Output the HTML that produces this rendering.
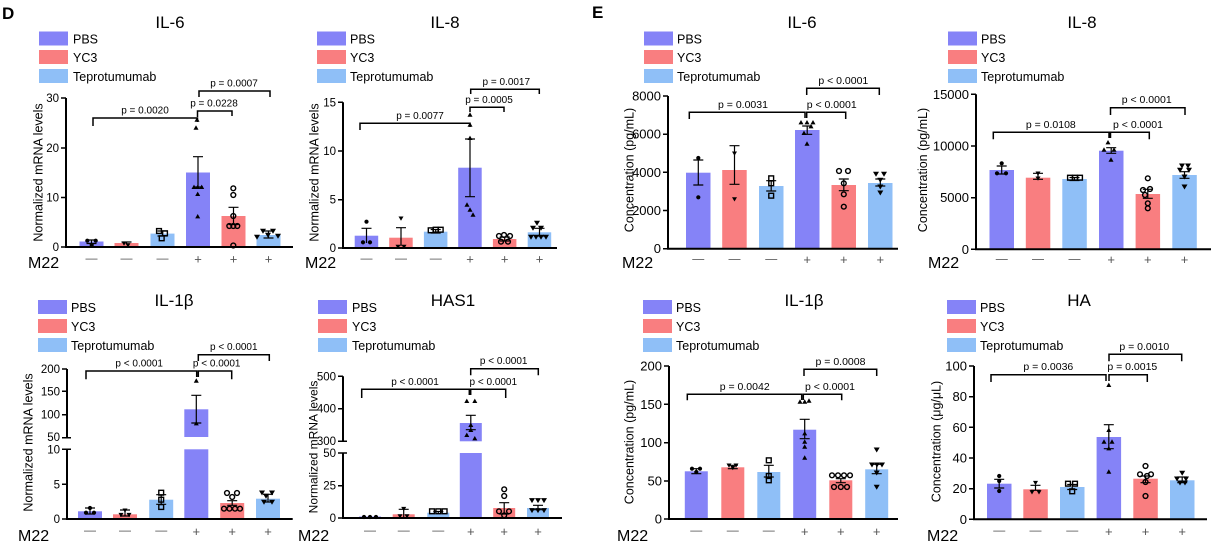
<!DOCTYPE html>
<html><head><meta charset="utf-8"><style>
html,body{margin:0;padding:0;background:#fff;}
svg{display:block}
text{font-family:"Liberation Sans",Arial,sans-serif;fill:#000}
.ax{stroke:#000;stroke-width:2;fill:none}
.tk{stroke:#000;stroke-width:1.5;fill:none}
.br{stroke:#000;stroke-width:1.5;fill:none}
.eb{stroke:#000;stroke-width:1.2;fill:none}
.tl{font-size:11.5px;text-anchor:end}
.tlE{font-size:13px;text-anchor:end}
.pv{font-size:10px;text-anchor:middle}
.pvE{font-size:10.5px;text-anchor:middle}
.lg{font-size:12.5px}
.ti{font-size:17px;text-anchor:middle}
.yl{font-size:12.5px;text-anchor:middle}
.m22{font-size:16px}
.xm{font-size:12px;text-anchor:middle;fill:#555}
.xp{font-size:13px;text-anchor:middle;fill:#555}
.P{fill:#8583f7}.Y{fill:#f97e80}.T{fill:#8fbff7}
</style></head><body>
<svg width="1231" height="548" viewBox="0 0 1231 548" xmlns="http://www.w3.org/2000/svg">
<defs>
<g id="dot"><circle r="2.1" fill="#000"/></g>
<g id="tri"><path d="M0,-2.7L2.5,1.7H-2.5Z" fill="#000"/></g>
<g id="vt"><path d="M-2.5,-1.8H2.5L0,2.5Z" fill="#000"/></g>
<g id="sq"><rect x="-2.4" y="-2.4" width="4.8" height="4.8" fill="none" stroke="#000" stroke-width="1.4"/></g>
<g id="oc"><circle r="2.4" fill="none" stroke="#000" stroke-width="1.4"/></g>
<g id="it"><path d="M-3,-2.2H3L0,2.8Z" fill="#000"/></g>
</defs>

<text x="2" y="19" style="font-size:17px;font-weight:bold">D</text>
<text x="592" y="18" style="font-size:17px;font-weight:bold">E</text>

<!-- ================= Panel A: D IL-6 ================= -->
<text class="ti" x="170" y="28">IL-6</text>
<rect x="39" y="31.5" width="29" height="14" class="P"/><text class="lg" x="73" y="43.3">PBS</text>
<rect x="39" y="50" width="29" height="14" class="Y"/><text class="lg" x="73" y="61.8">YC3</text>
<rect x="39" y="69" width="29" height="14" class="T"/><text class="lg" x="73" y="80.8">Teprotumumab</text>
<text class="yl" transform="translate(42.5,172.5) rotate(-90)">Normalized mRNA levels</text>
<rect x="79.5" y="241.5" width="24" height="5.5" class="P"/>
<rect x="114.5" y="243" width="24" height="4" class="Y"/>
<rect x="150.5" y="233.6" width="24" height="13.4" class="T"/>
<rect x="186" y="172.5" width="24" height="74.5" class="P"/>
<rect x="221.5" y="216" width="24" height="31" class="Y"/>
<rect x="256.5" y="235" width="24" height="12" class="T"/>
<path class="eb" d="M86.5,240H96.5M91.5,240V243.5M86.5,243.5H96.5 M121.5,242H131.5M126.5,242V244.5 M157.5,231H167.5M162.5,231V236M157.5,236H167.5 M193,156.7H203M198,156.7V187M193,187H203 M228.5,207.3H238.5M233.5,207.3V224.5M228.5,224.5H238.5 M263.5,231H273.5M268.5,231V238M263.5,238H273.5"/>
<use href="#dot" x="87.3" y="240.7"/><use href="#dot" x="95.7" y="240.7"/><use href="#dot" x="91.7" y="245"/>
<use href="#vt" x="124" y="243.3"/><use href="#vt" x="128" y="245"/>
<use href="#sq" x="159" y="231"/><use href="#sq" x="165" y="233.3"/><use href="#sq" x="161.7" y="238.3"/>
<use href="#tri" x="197" y="120"/><use href="#tri" x="196" y="128"/><use href="#tri" x="194" y="187.3"/><use href="#tri" x="197.7" y="187.3"/><use href="#tri" x="201.7" y="187.3"/><use href="#tri" x="197.7" y="194.3"/><use href="#tri" x="197.7" y="216.7"/>
<use href="#oc" x="233.3" y="188.3"/><use href="#oc" x="233.3" y="195"/><use href="#oc" x="233.3" y="216"/><use href="#oc" x="229.3" y="226"/><use href="#oc" x="233.3" y="226"/><use href="#oc" x="237.3" y="226"/><use href="#oc" x="233.3" y="245.5"/>
<use href="#it" x="257" y="237"/><use href="#it" x="263" y="231"/><use href="#it" x="268" y="235"/><use href="#it" x="273" y="231"/><use href="#it" x="278" y="236"/>
<path class="ax" d="M66,98V247H293"/>
<path class="tk" d="M61,98H66M61,148H66M61,197.5H66M61,247H66"/>
<text class="tl" x="59" y="102">30</text><text class="tl" x="59" y="152">20</text><text class="tl" x="59" y="201.5">10</text><text class="tl" x="59" y="251">0</text>
<path class="br" d="M93,126V118H197.5V122 M197.5,117V111H232V116 M199,97V91H270V97"/>
<text class="pv" x="145" y="113.5">p = 0.0020</text>
<text class="pv" x="214" y="106.5">p = 0.0228</text>
<text class="pv" x="234" y="86.5">p = 0.0007</text>
<text class="m22" x="28" y="268">M22</text>
<text class="xm" x="91.5" y="262">—</text><text class="xm" x="126.5" y="262">—</text><text class="xm" x="162.5" y="262">—</text>
<text class="xp" x="198" y="263.5">+</text><text class="xp" x="233.5" y="263.5">+</text><text class="xp" x="268.5" y="263.5">+</text>

<!-- ================= Panel B: D IL-8 ================= -->
<text class="ti" x="445" y="28">IL-8</text>
<rect x="317" y="31.5" width="29" height="14" class="P"/><text class="lg" x="350" y="43.3">PBS</text>
<rect x="317" y="50" width="29" height="14" class="Y"/><text class="lg" x="350" y="61.8">YC3</text>
<rect x="317" y="69" width="29" height="14" class="T"/><text class="lg" x="350" y="80.8">Teprotumumab</text>
<text class="yl" transform="translate(318.5,172.5) rotate(-90)">Normalized mRNA levels</text>
<rect x="354.7" y="235.7" width="23.5" height="12.3" class="P"/>
<rect x="389.2" y="237.7" width="23.5" height="10.3" class="Y"/>
<rect x="423.9" y="231.7" width="23.5" height="16.3" class="T"/>
<rect x="458.2" y="167.7" width="23.5" height="80.3" class="P"/>
<rect x="492.9" y="239" width="23.5" height="9" class="Y"/>
<rect x="527.7" y="232.3" width="23.5" height="15.7" class="T"/>
<path class="eb" d="M361.5,228.3H371.5M366.5,228.3V243 M396,227.7H406M401,227.7V246 M430.7,229.5H440.7M435.7,229.5V233M430.7,233H440.7 M465,139H475M470,139V196.7M465,196.7H475 M499.7,237H509.7M504.7,237V241M499.7,241H509.7 M534.5,228.3H544.5M539.5,228.3V236M534.5,236H544.5"/>
<use href="#dot" x="366.5" y="221.7"/><use href="#dot" x="363" y="242.3"/><use href="#dot" x="370" y="242.3"/>
<use href="#vt" x="401" y="218.3"/><use href="#vt" x="398" y="246.5"/><use href="#vt" x="404" y="246.5"/>
<use href="#sq" x="430.7" y="230.3"/><use href="#sq" x="435.7" y="229.7"/><use href="#sq" x="440.7" y="229.7"/>
<use href="#tri" x="470" y="115"/><use href="#tri" x="470" y="125"/><use href="#tri" x="470" y="138.3"/><use href="#tri" x="467" y="205"/><use href="#tri" x="470" y="210"/><use href="#tri" x="473" y="215"/>
<use href="#oc" x="499" y="236"/><use href="#oc" x="504" y="235"/><use href="#oc" x="510" y="236"/><use href="#oc" x="501" y="241.7"/><use href="#oc" x="508" y="241.7"/>
<use href="#it" x="537" y="223"/><use href="#it" x="533" y="228"/><use href="#it" x="541" y="228"/><use href="#it" x="531" y="237"/><use href="#it" x="536" y="237"/><use href="#it" x="541" y="237"/><use href="#it" x="546" y="237"/>
<path class="ax" d="M343,102.3V248H557"/>
<path class="tk" d="M338,102.3H343M338,151H343M338,199.7H343M338,248H343"/>
<text class="tl" x="336" y="106.3">15</text><text class="tl" x="336" y="155">10</text><text class="tl" x="336" y="203.7">5</text><text class="tl" x="336" y="252">0</text>
<path class="br" d="M360,130V123.3H470V127 M470,112V107.3H504V112 M470.7,94V89.3H539.3V94"/>
<text class="pv" x="420" y="118.8">p = 0.0077</text>
<text class="pv" x="489" y="102.8">p = 0.0005</text>
<text class="pv" x="506.3" y="84.8">p = 0.0017</text>
<text class="m22" x="305" y="268">M22</text>
<text class="xm" x="366.5" y="262">—</text><text class="xm" x="401" y="262">—</text><text class="xm" x="435.7" y="262">—</text>
<text class="xp" x="470" y="263.5">+</text><text class="xp" x="504.7" y="263.5">+</text><text class="xp" x="539.5" y="263.5">+</text>

<!-- ================= Panel C: E IL-6 ================= -->
<text class="ti" x="802" y="28">IL-6</text>
<rect x="644" y="31.5" width="29" height="14" class="P"/><text class="lg" x="677" y="43.3">PBS</text>
<rect x="644" y="50" width="29" height="14" class="Y"/><text class="lg" x="677" y="61.8">YC3</text>
<rect x="644" y="69" width="29" height="14" class="T"/><text class="lg" x="677" y="80.8">Teprotumumab</text>
<text class="yl" transform="translate(633.5,170) rotate(-90)">Concentration (pg/mL)</text>
<rect x="686" y="172.7" width="24.5" height="76" class="P"/>
<rect x="722.2" y="170" width="24.5" height="78.7" class="Y"/>
<rect x="759" y="186" width="24.5" height="62.7" class="T"/>
<rect x="795" y="130" width="24.5" height="118.7" class="P"/>
<rect x="831.5" y="185" width="24.5" height="63.7" class="Y"/>
<rect x="868" y="183" width="24.5" height="65.7" class="T"/>
<path class="eb" d="M693.3,160H703.3M698.3,160V185M693.3,185H703.3 M729.5,145.7H739.5M734.5,145.7V184.3M729.5,184.3H739.5 M766.2,180.7H776.2M771.2,180.7V191M766.2,191H776.2 M802.2,126H812.2M807.2,126V134.3M802.2,134.3H812.2 M838.8,179H848.8M843.8,179V190.7M838.8,190.7H848.8 M875.3,179H885.3M880.3,179V186M875.3,186H885.3"/>
<use href="#dot" x="698.3" y="158"/><use href="#dot" x="698.3" y="197.3"/>
<use href="#vt" x="734.5" y="153.3"/><use href="#vt" x="734.5" y="199"/>
<use href="#sq" x="771.2" y="178.3"/><use href="#sq" x="771.2" y="183.3"/><use href="#sq" x="771.2" y="195.7"/>
<use href="#tri" x="801" y="122.7"/><use href="#tri" x="807" y="122.7"/><use href="#tri" x="813" y="122.7"/><use href="#tri" x="811" y="126.7"/><use href="#tri" x="804" y="133.3"/><use href="#tri" x="807" y="144"/>
<use href="#oc" x="839" y="171"/><use href="#oc" x="848" y="171"/><use href="#oc" x="843.8" y="183.3"/><use href="#oc" x="843.8" y="194.3"/><use href="#oc" x="843.8" y="206.7"/>
<use href="#it" x="876" y="174"/><use href="#it" x="884" y="174"/><use href="#it" x="880.3" y="180"/><use href="#it" x="880.3" y="186.7"/><use href="#it" x="880.3" y="192.7"/>
<path class="ax" d="M668,96V248.7H898"/>
<path class="tk" d="M663,96H668M663,134.2H668M663,172.3H668M663,210.5H668M663,248.7H668"/>
<text class="tlE" x="661" y="100.5">8000</text><text class="tlE" x="661" y="138.7">6000</text><text class="tlE" x="661" y="176.8">4000</text><text class="tlE" x="661" y="215">2000</text><text class="tlE" x="661" y="253.2">0</text>
<path class="br" d="M689.3,119V112.3H805V118 M806.7,118V112.3H845.7V119 M806.7,95V88.3H879.3V95"/>
<text class="pvE" x="743" y="107.8">p = 0.0031</text>
<text class="pvE" x="831.7" y="107.8">p &lt; 0.0001</text>
<text class="pvE" x="843.3" y="83.8">p &lt; 0.0001</text>
<text class="m22" x="622" y="268">M22</text>
<text class="xm" x="698.3" y="262.5">—</text><text class="xm" x="734.5" y="262.5">—</text><text class="xm" x="771.2" y="262.5">—</text>
<text class="xp" x="807.2" y="264">+</text><text class="xp" x="843.8" y="264">+</text><text class="xp" x="880.3" y="264">+</text>

<!-- ================= Panel D: E IL-8 ================= -->
<text class="ti" x="1082" y="28">IL-8</text>
<rect x="948" y="31.5" width="29" height="14" class="P"/><text class="lg" x="981" y="43.3">PBS</text>
<rect x="948" y="50" width="29" height="14" class="Y"/><text class="lg" x="981" y="61.8">YC3</text>
<rect x="948" y="69" width="29" height="14" class="T"/><text class="lg" x="981" y="80.8">Teprotumumab</text>
<text class="yl" transform="translate(927,170) rotate(-90)">Concentration (pg/mL)</text>
<rect x="989.5" y="170" width="24.5" height="79.3" class="P"/>
<rect x="1025.8" y="177.7" width="24.5" height="71.6" class="Y"/>
<rect x="1062.3" y="179" width="24.5" height="70.3" class="T"/>
<rect x="1099" y="150.7" width="24.5" height="98.6" class="P"/>
<rect x="1135.6" y="194" width="24.5" height="55.3" class="Y"/>
<rect x="1172.3" y="175" width="24.5" height="74.3" class="T"/>
<path class="eb" d="M996.7,166H1006.7M1001.7,166V174M996.7,174H1006.7 M1033,173.3H1043M1038,173.3V179.3M1033,179.3H1043 M1069.5,177.5H1079.5M1074.5,177.5V180.5M1069.5,180.5H1079.5 M1106.2,147.7H1116.2M1111.2,147.7V153.3M1106.2,153.3H1116.2 M1142.8,189.3H1152.8M1147.8,189.3V198.3M1142.8,198.3H1152.8 M1179.5,171.7H1189.5M1184.5,171.7V178.3M1179.5,178.3H1189.5"/>
<use href="#dot" x="1001.7" y="163.3"/><use href="#dot" x="997" y="173.3"/><use href="#dot" x="1006" y="173.3"/>
<use href="#vt" x="1038" y="173.3"/><use href="#vt" x="1038" y="178.3"/>
<use href="#sq" x="1070" y="177.7"/><use href="#sq" x="1075" y="177.7"/><use href="#sq" x="1080" y="177.7"/>
<use href="#tri" x="1108" y="142.7"/><use href="#tri" x="1104" y="150"/><use href="#tri" x="1114" y="150"/><use href="#tri" x="1111" y="160"/>
<use href="#oc" x="1147.8" y="178.3"/><use href="#oc" x="1143" y="190"/><use href="#oc" x="1150" y="189"/><use href="#oc" x="1145" y="195"/><use href="#oc" x="1147.8" y="203.3"/><use href="#oc" x="1147.8" y="208.3"/>
<use href="#it" x="1182" y="165.7"/><use href="#it" x="1188" y="165.7"/><use href="#it" x="1180" y="170"/><use href="#it" x="1189" y="170"/><use href="#it" x="1184.5" y="176.7"/><use href="#it" x="1184.5" y="186.7"/>
<path class="ax" d="M976,94.3V249.3H1211"/>
<path class="tk" d="M971,94.3H976M971,146H976M971,197.7H976M971,249.3H976"/>
<text class="tlE" x="969" y="98.8">15000</text><text class="tlE" x="969" y="150.5">10000</text><text class="tlE" x="969" y="202.2">5000</text><text class="tlE" x="969" y="253.8">0</text>
<path class="br" d="M993.3,139.3V132.3H1109V138 M1110.5,138V132.3H1149.3V139.3 M1110.5,115V107.7H1185V115"/>
<text class="pvE" x="1050.8" y="127.8">p = 0.0108</text>
<text class="pvE" x="1138" y="127.8">p &lt; 0.0001</text>
<text class="pvE" x="1146.7" y="103.2">p &lt; 0.0001</text>
<text class="m22" x="928" y="268">M22</text>
<text class="xm" x="1001.7" y="262.5">—</text><text class="xm" x="1038" y="262.5">—</text><text class="xm" x="1074.5" y="262.5">—</text>
<text class="xp" x="1111.2" y="264">+</text><text class="xp" x="1147.8" y="264">+</text><text class="xp" x="1184.5" y="264">+</text>

<!-- ================= Panel E: D IL-1β ================= -->
<text class="ti" x="174" y="306">IL-1β</text>
<rect x="38" y="300" width="29" height="14" class="P"/><text class="lg" x="71" y="311.8">PBS</text>
<rect x="38" y="319" width="29" height="14" class="Y"/><text class="lg" x="71" y="330.8">YC3</text>
<rect x="38" y="338" width="29" height="14" class="T"/><text class="lg" x="71" y="349.8">Teprotumumab</text>
<text class="yl" transform="translate(32.5,442.5) rotate(-90)">Normalized mRNA levels</text>
<rect x="78" y="511.3" width="24" height="7.7" class="P"/>
<rect x="113" y="514.3" width="24" height="4.7" class="Y"/>
<rect x="149.2" y="499.7" width="24" height="19.3" class="T"/>
<rect x="184.3" y="409.3" width="24" height="27.7" class="P"/>
<rect x="184.3" y="449.3" width="24" height="69.7" class="P"/>
<rect x="220.2" y="503" width="24" height="16" class="Y"/>
<rect x="256" y="498.7" width="24" height="20.3" class="T"/>
<path class="eb" d="M85,508H95M90,508V514M85,514H95 M120,510H130M125,510V516M120,516H130 M156.2,494.7H166.2M161.2,494.7V504.3M156.2,504.3H166.2 M191.3,395.3H201.3M196.3,395.3V423M191.3,423H201.3 M227.2,500.7H237.2M232.2,500.7V505.3M227.2,505.3H237.2 M263,494.3H273M268,494.3V502M263,502H273"/>
<use href="#dot" x="90" y="508"/><use href="#dot" x="86" y="512.7"/><use href="#dot" x="94" y="512.7"/>
<use href="#vt" x="125" y="510.3"/><use href="#vt" x="121" y="514.7"/><use href="#vt" x="129" y="514.7"/>
<use href="#sq" x="161.2" y="492.7"/><use href="#sq" x="161.2" y="499.7"/><use href="#sq" x="161.2" y="507"/>
<use href="#tri" x="196.3" y="381"/><use href="#tri" x="196.3" y="423.7"/>
<use href="#oc" x="227" y="493"/><use href="#oc" x="237" y="493"/><use href="#oc" x="232.2" y="497"/><use href="#oc" x="224" y="508.7"/><use href="#oc" x="229.5" y="508.7"/><use href="#oc" x="235" y="508.7"/><use href="#oc" x="240" y="508.7"/>
<use href="#it" x="262" y="492.7"/><use href="#it" x="272" y="492.7"/><use href="#it" x="266" y="496"/><use href="#it" x="264" y="502"/><use href="#it" x="272" y="502"/>
<path class="ax" d="M67,369V437.7 M67,449.3V519H292.7"/>
<path class="tk" d="M62,369H67M62,391.3H67M62,414.7H67M62,437.7H71M62,449.3H71M62,484.3H67M62,519H67"/>
<text class="tl" x="60" y="373">200</text><text class="tl" x="60" y="395.3">150</text><text class="tl" x="60" y="418.7">100</text><text class="tl" x="60" y="441.2">50</text>
<text class="tl" x="60" y="453.3">10</text><text class="tl" x="60" y="488.3">5</text><text class="tl" x="60" y="523">0</text>
<path class="br" d="M86,379.3V371H196.7V377 M198.3,377V371H231.7V379.3 M198.3,361V354.7H269.3V361"/>
<text class="pv" x="139.2" y="366.5">p &lt; 0.0001</text>
<text class="pv" x="216.7" y="366.5">p &lt; 0.0001</text>
<text class="pv" x="233.8" y="350.2">p &lt; 0.0001</text>
<text class="m22" x="18" y="541">M22</text>
<text class="xm" x="90" y="534">—</text><text class="xm" x="125" y="534">—</text><text class="xm" x="161.2" y="534">—</text>
<text class="xp" x="196.3" y="536">+</text><text class="xp" x="232.2" y="536">+</text><text class="xp" x="268" y="536">+</text>

<!-- ================= Panel F: D HAS1 ================= -->
<text class="ti" x="453" y="306">HAS1</text>
<rect x="318" y="300" width="29" height="14" class="P"/><text class="lg" x="352" y="311.8">PBS</text>
<rect x="318" y="319" width="29" height="14" class="Y"/><text class="lg" x="352" y="330.8">YC3</text>
<rect x="318" y="338" width="29" height="14" class="T"/><text class="lg" x="352" y="349.8">Teprotumumab</text>
<text class="yl" transform="translate(317.5,447) rotate(-90)" style="font-size:12px">Normalized mRNA levels</text>
<rect x="359" y="516.5" width="22" height="1.5" class="P"/>
<rect x="392.7" y="514.3" width="22" height="3.7" class="Y"/>
<rect x="427.3" y="512.7" width="22" height="5.3" class="T"/>
<rect x="459.8" y="423" width="22" height="18.3" class="P"/>
<rect x="459.8" y="453" width="22" height="65" class="P"/>
<rect x="493.2" y="508" width="22" height="10" class="Y"/>
<rect x="527" y="508" width="22" height="10" class="T"/>
<path class="eb" d="M398.7,509.3H408.7M403.7,509.3V517 M433.3,511.5H443.3M438.3,511.5V514 M465.8,415.3H475.8M470.8,415.3V429.7M465.8,429.7H475.8 M499.2,502.7H509.2M504.2,502.7V514M499.2,514H509.2 M533,505.3H543M538,505.3V509.7M533,509.7H543"/>
<use href="#dot" x="364" y="517"/><use href="#dot" x="370" y="517"/><use href="#dot" x="376" y="517"/>
<use href="#vt" x="403.7" y="508.7"/><use href="#vt" x="400" y="516"/><use href="#vt" x="407" y="516"/>
<use href="#sq" x="432" y="511.3"/><use href="#sq" x="438.3" y="511.3"/><use href="#sq" x="444.6" y="511.3"/>
<use href="#tri" x="466.8" y="401.3"/><use href="#tri" x="474.8" y="401.3"/><use href="#tri" x="470.8" y="425.3"/><use href="#tri" x="470.8" y="430.3"/><use href="#tri" x="466.8" y="435.3"/><use href="#tri" x="474.8" y="438.7"/>
<use href="#oc" x="504.2" y="489.3"/><use href="#oc" x="504.2" y="496"/><use href="#oc" x="499" y="511.3"/><use href="#oc" x="509" y="511.3"/><use href="#oc" x="504.2" y="515.3"/>
<use href="#it" x="532" y="500.3"/><use href="#it" x="538" y="500.3"/><use href="#it" x="544" y="500.3"/><use href="#it" x="532" y="510.3"/><use href="#it" x="538" y="510.3"/><use href="#it" x="544" y="510.3"/>
<path class="ax" d="M343,376.3V441.3 M343,453V518H562"/>
<path class="tk" d="M338,376.3H343M338,408.7H343M338,441.3H347M338,453H347M338,485.7H343M338,518H343"/>
<text class="tl" x="336" y="380.3">500</text><text class="tl" x="336" y="412.7">400</text><text class="tl" x="336" y="444.8">300</text>
<text class="tl" x="336" y="457">50</text><text class="tl" x="336" y="489.7">25</text><text class="tl" x="336" y="522">0</text>
<path class="br" d="M361.7,398V389.3H469.3V395 M470.7,395V389.3H505.7V398 M470.7,375.3V368.7H538.3V375.3"/>
<text class="pv" x="415" y="384.8">p &lt; 0.0001</text>
<text class="pv" x="493.3" y="384.8">p &lt; 0.0001</text>
<text class="pv" x="503.7" y="364.2">p &lt; 0.0001</text>
<text class="m22" x="298" y="541">M22</text>
<text class="xm" x="370" y="534">—</text><text class="xm" x="403.7" y="534">—</text><text class="xm" x="438.3" y="534">—</text>
<text class="xp" x="470.8" y="536">+</text><text class="xp" x="504.2" y="536">+</text><text class="xp" x="538" y="536">+</text>

<!-- ================= Panel G: E IL-1β ================= -->
<text class="ti" x="804" y="306">IL-1β</text>
<rect x="643" y="300" width="29" height="14" class="P"/><text class="lg" x="676" y="311.8">PBS</text>
<rect x="643" y="319" width="29" height="14" class="Y"/><text class="lg" x="676" y="330.8">YC3</text>
<rect x="643" y="338" width="29" height="14" class="T"/><text class="lg" x="676" y="349.8">Teprotumumab</text>
<text class="yl" transform="translate(633.5,442) rotate(-90)">Concentration (pg/mL)</text>
<rect x="684.8" y="471.3" width="23" height="47.7" class="P"/>
<rect x="721.3" y="467.3" width="23" height="51.7" class="Y"/>
<rect x="757.3" y="472" width="23" height="47" class="T"/>
<rect x="793.2" y="429.7" width="23" height="89.3" class="P"/>
<rect x="829.3" y="480.3" width="23" height="38.7" class="Y"/>
<rect x="865.2" y="469.3" width="23" height="49.7" class="T"/>
<path class="eb" d="M691.3,468.7H701.3M696.3,468.7V473.7M691.3,473.7H701.3 M727.8,465.3H737.8M732.8,465.3V468.7M727.8,468.7H737.8 M763.8,465.3H773.8M768.8,465.3V477M763.8,477H773.8 M799.7,419.3H809.7M804.7,419.3V438.7M799.7,438.7H809.7 M835.8,478.7H845.8M840.8,478.7V482.7M835.8,482.7H845.8 M871.7,464.3H881.7M876.7,464.3V473.7M871.7,473.7H881.7"/>
<use href="#dot" x="692" y="468.7"/><use href="#dot" x="700" y="468.7"/><use href="#dot" x="696.3" y="472"/>
<use href="#vt" x="729" y="465.3"/><use href="#vt" x="736" y="465.3"/><use href="#vt" x="732.8" y="467.7"/>
<use href="#sq" x="768.8" y="460.3"/><use href="#sq" x="768.8" y="476"/><use href="#sq" x="768.8" y="480.3"/>
<use href="#tri" x="800" y="402"/><use href="#tri" x="804.7" y="402"/><use href="#tri" x="809" y="401"/><use href="#tri" x="804.7" y="433.7"/><use href="#tri" x="804.7" y="442"/><use href="#tri" x="804.7" y="447"/><use href="#tri" x="804.7" y="458"/>
<use href="#oc" x="832" y="475.3"/><use href="#oc" x="838" y="475.3"/><use href="#oc" x="844" y="475.3"/><use href="#oc" x="850" y="475.3"/><use href="#oc" x="834" y="487"/><use href="#oc" x="840.8" y="487"/><use href="#oc" x="847" y="487"/>
<use href="#it" x="876.7" y="449.7"/><use href="#it" x="872" y="464.7"/><use href="#it" x="877" y="464.7"/><use href="#it" x="882" y="464.7"/><use href="#it" x="876.7" y="472.7"/><use href="#it" x="876.7" y="487"/>
<path class="ax" d="M669,366V519H898"/>
<path class="tk" d="M664,366H669M664,404.3H669M664,442.7H669M664,481H669M664,519H669"/>
<text class="tlE" x="662" y="370.5">200</text><text class="tlE" x="662" y="408.8">150</text><text class="tlE" x="662" y="447.2">100</text><text class="tlE" x="662" y="485.5">50</text><text class="tlE" x="662" y="523.5">0</text>
<path class="br" d="M687.3,400.3V394.3H801.7V400 M803.3,400V394.3H841.7V400.3 M804,376V369.3H876.7V376"/>
<text class="pvE" x="744.7" y="389.8">p = 0.0042</text>
<text class="pvE" x="830" y="389.8">p &lt; 0.0001</text>
<text class="pvE" x="840.5" y="364.8">p = 0.0008</text>
<text class="m22" x="617" y="541">M22</text>
<text class="xm" x="696.3" y="534">—</text><text class="xm" x="732.8" y="534">—</text><text class="xm" x="768.8" y="534">—</text>
<text class="xp" x="804.7" y="536">+</text><text class="xp" x="840.8" y="536">+</text><text class="xp" x="876.7" y="536">+</text>

<!-- ================= Panel H: E HA ================= -->
<text class="ti" x="1079" y="306">HA</text>
<rect x="947" y="300" width="29" height="14" class="P"/><text class="lg" x="980" y="311.8">PBS</text>
<rect x="947" y="319" width="29" height="14" class="Y"/><text class="lg" x="980" y="330.8">YC3</text>
<rect x="947" y="338" width="29" height="14" class="T"/><text class="lg" x="980" y="349.8">Teprotumumab</text>
<text class="yl" transform="translate(940.5,441.5) rotate(-90)">Concentration (μg/μL)</text>
<rect x="987" y="483.7" width="24.5" height="35.6" class="P"/>
<rect x="1023.3" y="489.3" width="24.5" height="30" class="Y"/>
<rect x="1060" y="487" width="24.5" height="32.3" class="T"/>
<rect x="1096.6" y="437" width="24.5" height="82.3" class="P"/>
<rect x="1133.3" y="478.7" width="24.5" height="40.6" class="Y"/>
<rect x="1170" y="480.3" width="24.5" height="39" class="T"/>
<path class="eb" d="M994.2,479.3H1004.2M999.2,479.3V488M994.2,488H1004.2 M1030.5,485.3H1040.5M1035.5,485.3V490.3M1030.5,490.3H1040.5 M1067.2,484.5H1077.2M1072.2,484.5V489.5M1067.2,489.5H1077.2 M1103.8,424.7H1113.8M1108.8,424.7V448.7M1103.8,448.7H1113.8 M1140.5,476H1150.5M1145.5,476V482.7M1140.5,482.7H1150.5 M1177.2,477H1187.2M1182.2,477V482.7M1177.2,482.7H1187.2"/>
<use href="#dot" x="999.2" y="476"/><use href="#dot" x="999.2" y="481"/><use href="#dot" x="999.2" y="491"/>
<use href="#vt" x="1035.5" y="482.7"/><use href="#vt" x="1032" y="492"/><use href="#vt" x="1039" y="492"/>
<use href="#sq" x="1068" y="483.7"/><use href="#sq" x="1075" y="483.7"/><use href="#sq" x="1072.2" y="491.3"/>
<use href="#tri" x="1108.8" y="385.3"/><use href="#tri" x="1108.8" y="430.3"/><use href="#tri" x="1104" y="442"/><use href="#tri" x="1112" y="442"/><use href="#tri" x="1108.8" y="448.7"/><use href="#tri" x="1108.8" y="472"/>
<use href="#oc" x="1145.5" y="466"/><use href="#oc" x="1140" y="474.3"/><use href="#oc" x="1147" y="476"/><use href="#oc" x="1151" y="474.3"/><use href="#oc" x="1145.5" y="482"/><use href="#oc" x="1145.5" y="496"/>
<use href="#it" x="1182.2" y="473"/><use href="#it" x="1177" y="478.7"/><use href="#it" x="1186" y="478.7"/><use href="#it" x="1180" y="482.7"/><use href="#it" x="1185" y="482.7"/>
<path class="ax" d="M974,366V519.3H1207"/>
<path class="tk" d="M969,366H974M969,396.7H974M969,427.3H974M969,458H974M969,488.7H974M969,519.3H974"/>
<text class="tlE" x="967" y="370.5">100</text><text class="tlE" x="967" y="401.2">80</text><text class="tlE" x="967" y="431.8">60</text><text class="tlE" x="967" y="462.5">40</text><text class="tlE" x="967" y="493.2">20</text><text class="tlE" x="967" y="523.8">0</text>
<path class="br" d="M991,382V374.7H1106V381 M1109,381V374.7H1147.3V382 M1109,361.3V354.3H1181.7V361.3"/>
<text class="pvE" x="1048.3" y="370.2">p = 0.0036</text>
<text class="pvE" x="1132.3" y="370.2">p = 0.0015</text>
<text class="pvE" x="1144.3" y="349.8">p = 0.0010</text>
<text class="m22" x="927" y="541">M22</text>
<text class="xm" x="999.2" y="534">—</text><text class="xm" x="1035.5" y="534">—</text><text class="xm" x="1072.2" y="534">—</text>
<text class="xp" x="1108.8" y="536">+</text><text class="xp" x="1145.5" y="536">+</text><text class="xp" x="1182.2" y="536">+</text>
</svg>
</body></html>
